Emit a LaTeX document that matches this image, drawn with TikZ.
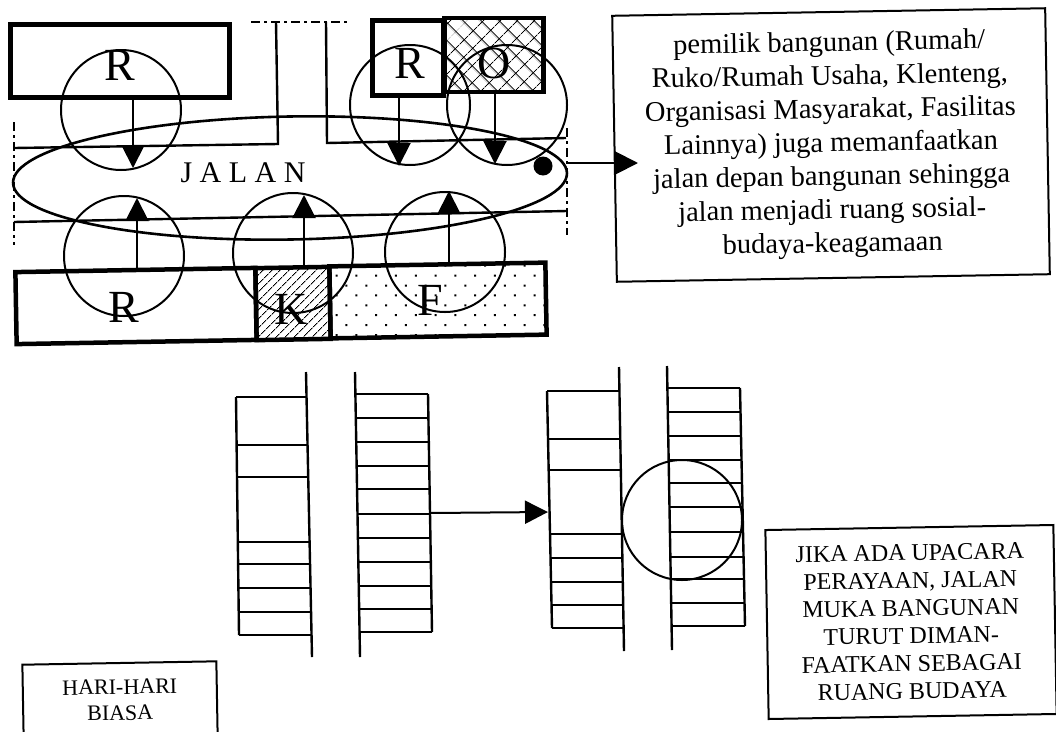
\documentclass[tikz,border=0pt]{standalone}
\usepackage{fontspec}
\setmainfont{Liberation Serif}
\usetikzlibrary{arrows.meta, positioning, shapes.geometric, patterns.meta}

\begin{document}
\begin{tikzpicture}[
    x=1pt, y=-1pt,
    bangunan/.style={draw, line width=4.5pt, inner sep=0pt, minimum height=72pt},
    lingkaran/.style={draw, circle, line width=2pt, inner sep=0pt, minimum size=120pt},
    huruf/.style={font=\fontsize{46}{46}\selectfont, inner sep=0pt},
    garis/.style={line width=2.4pt},
    putus/.style={line width=2.2pt, dash pattern=on 9pt off 4pt on 3pt off 4pt},
    panah/.style={line width=2pt, -{Triangle[length=23pt, width=23pt]}},
    keterangan/.style={draw, line width=2pt, align=center, inner sep=0pt, rotate=1}
]
\useasboundingbox (0,0) rectangle (1056,731);

% Bangunan baris atas
\node[bangunan, minimum width=219pt, minimum height=73pt] (atasA) at (120,61) {};
\node[bangunan, minimum width=71pt, minimum height=75pt] (atasB) at (408,58) {};
\node[bangunan, minimum width=99pt, minimum height=74pt,
    pattern={Hatch[angle=45, distance=13pt, line width=1pt]}] (atasC) at (494,55) {};

% Bangunan baris bawah
\node[bangunan, minimum width=240pt, rotate=1] (bawahA) at (136,306) {};
\node[bangunan, minimum width=74pt, rotate=1,
    pattern={Lines[angle=45, distance=6.5pt, line width=1pt]}] (bawahB) at (293,303.5) {};
\node[bangunan, minimum width=216pt, rotate=1,
    pattern={Dots[angle=45, distance=14pt, radius=1.4pt]}] (bawahC) at (438,300.5) {};

% Tepi jalan
\draw[garis] (14,148) -- (278,144) -- (276,22);
\draw[garis] (326,22) -- (327,143) -- (566,138);
\draw[garis] (14,222) -- (567,211);
\draw[putus] (251,22) -- (350,22);
\draw[putus] (14,122) -- (14,245);
\draw[putus] (567,128) -- (567,235);

% Jangkauan tiap bangunan
\node[lingkaran] (lingA) at (121,110) {};
\node[lingkaran] (lingB) at (410,105) {};
\node[lingkaran] (lingC) at (507,105) {};
\node[lingkaran] (lingD) at (124,256) {};
\node[lingkaran] (lingE) at (293,253) {};
\node[lingkaran] (lingF) at (445,252) {};

% Area jalan
\node[draw, ellipse, line width=2.6pt, inner sep=0pt, minimum width=554pt, minimum height=123pt, rotate=1] (jalan) at (290,178) {};
\node[font=\fontsize{30}{30}\selectfont] (labelJalan) at (243,173) {J A L A N};
\fill (543,166) circle (9.5);

% Huruf bangunan
\node[huruf] (hurufA) at (120,65) {R};
\node[huruf] (hurufB) at (410,63) {R};
\node[huruf] (hurufC) at (494,63) {O};
\node[huruf] (hurufD) at (124,307) {R};
\node[huruf] (hurufE) at (291,309) {K};
\node[huruf] (hurufF) at (430,300) {F};

% Panah menuju jalan
\coordinate (ujungA) at (133,168);
\coordinate (ujungB) at (399,166);
\coordinate (ujungC) at (495,164);
\coordinate (ujungD) at (137,198);
\coordinate (ujungE) at (304,195);
\coordinate (ujungF) at (449,191);
\draw[panah] (ujungA |- atasA.south) -- (ujungA);
\draw[panah] (ujungB |- atasB.south) -- (ujungB);
\draw[panah] (ujungC |- atasC.south) -- (ujungC);
\draw[panah] (ujungD |- bawahA.north) -- (ujungD);
\draw[panah] (ujungE |- bawahB.north) -- (ujungE);
\draw[panah] (ujungF |- bawahC.north) -- (ujungF);

% Keterangan atas
\node[keterangan, minimum width=433pt, minimum height=266pt,
    font=\fontsize{28.5}{33.5}\selectfont] (ketAtas) at (831,145) {pemilik bangunan (Rumah/\\Ruko/Rumah Usaha, Klenteng,\\Organisasi Masyarakat, Fasilitas\\Lainnya) juga memanfaatkan\\jalan depan bangunan sehingga\\jalan menjadi ruang sosial-\\budaya-keagamaan};
\coordinate (ujungKet) at (638,163);
\draw[panah] (jalan.east |- ujungKet) -- (ujungKet);

% Deret bangunan hari biasa
\draw[garis] (306,372) -- (312,657);
\draw[garis] (355,372) -- (360,657);
\draw[garis] (236,397) -- (239,635);
\draw[garis] (428,394) -- (432,632);
\foreach \y in {397,445,477,542,564,588,612,635}
    \draw[garis] ({236+(\y-397)*0.0127},\y) -- ({306+(\y-372)*0.021},\y);
\foreach \y in {394,418,442,466,489,514,538,562,586,609,632}
    \draw[garis] ({355+(\y-372)*0.0175},\y) -- ({428+(\y-394)*0.0168},\y);

% Deret bangunan saat upacara
\draw[garis] (619,367) -- (624,651);
\draw[garis] (667,366) -- (672,650);
\draw[garis] (547,391) -- (552,628);
\draw[garis] (740,388) -- (745,626);
\foreach \y in {391,439,470,534,558,582,605,628}
    \draw[garis] ({547+(\y-391)*0.021},\y) -- ({619+(\y-367)*0.0176},\y);
\foreach \y in {388,412,436,460,483,507,532,557,579,603,626}
    \draw[garis] ({667+(\y-366)*0.0176},\y) -- ({740+(\y-388)*0.021},\y);
\node[lingkaran] (lingUpacara) at (682,520) {};

% Panah antar keadaan
\coordinate (asalDeret) at (430,513);
\coordinate (tujuDeret) at (548,512);
\draw[panah] (asalDeret) -- (tujuDeret);

% Keterangan bawah
\node[keterangan, minimum width=288pt, minimum height=189pt,
    font=\fontsize{24}{27.7}\selectfont] (ketUpacara) at (911,622) {JIKA ADA UPACARA\\PERAYAAN, JALAN\\MUKA BANGUNAN\\TURUT DIMAN-\\FAATKAN SEBAGAI\\RUANG BUDAYA};
\node[keterangan, minimum width=194pt, minimum height=74pt,
    font=\fontsize{22}{26}\selectfont] (ketBiasa) at (120,700) {HARI-HARI\\BIASA};

\end{tikzpicture}
\end{document}
